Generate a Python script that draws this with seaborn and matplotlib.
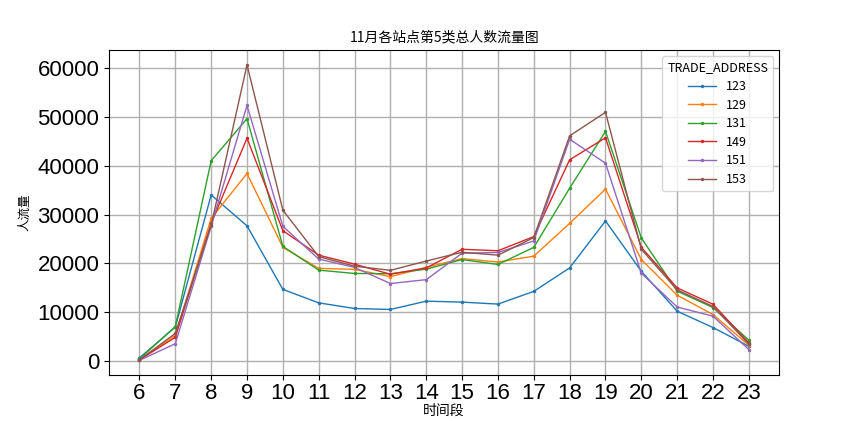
import numpy as np
import pandas as pd
import matplotlib
matplotlib.use("Agg")
import matplotlib.pyplot as plt
import seaborn as sns

# 时间段 6..23
hours = [6, 7, 8, 9, 10, 11, 12, 13, 14, 15, 16, 17, 18, 19, 20, 21, 22, 23]

s123 = [700, 7000, 34000, 27700, 14700, 11950, 10800, 10600, 12300, 12100, 11700, 14300, 19100, 28700, 18400, 10240, 6900, 3070]
s129 = [400, 5300, 29200, 38400, 23300, 19000, 18800, 17300, 19200, 21000, 20300, 21500, 28200, 35200, 20800, 13500, 9560, 3280]
s131 = [500, 7100, 41000, 49600, 23500, 18640, 17960, 17900, 18840, 20800, 19800, 23300, 35400, 47000, 25200, 14340, 11000, 4300]
s149 = [300, 4900, 28200, 45600, 26700, 21700, 19860, 17800, 19100, 22900, 22600, 25500, 41200, 45700, 23300, 15000, 11670, 3750]
s151 = [200, 3600, 27600, 52300, 27600, 20900, 19200, 15900, 16700, 22100, 22250, 24600, 45400, 40500, 18000, 11100, 9220, 2400]
s153 = [300, 5700, 27800, 60600, 30900, 21400, 19450, 18600, 20500, 22300, 21700, 25300, 46100, 50900, 22900, 14600, 11200, 3500]

addresses = ["123", "129", "131", "149", "151", "153"]
series = [s123, s129, s131, s149, s151, s153]

rows = []
for addr, vals in zip(addresses, series):
    for h, v in zip(hours, vals):
        rows.append({"时间段": h, "人流量": v, "TRADE_ADDRESS": addr})
df = pd.DataFrame(rows)

plt.rcParams['font.family'] = ['Noto Sans CJK SC', 'DejaVu Sans']
plt.rcParams['axes.unicode_minus'] = False

fig = plt.figure(figsize=(8.65, 4.21), dpi=100)
ax = fig.add_axes([0.126, 0.109, 0.775, 0.772])

sns.lineplot(data=df, x="时间段", y="人流量", hue="TRADE_ADDRESS",
             palette="tab10", marker=".", markersize=5, markeredgewidth=0,
             linewidth=1, ax=ax)

ax.set_xticks(hours)
ax.grid(True, color='#b0b0b0', linewidth=1)
ax.set_axisbelow(True)
ax.tick_params(axis='x', pad=2)

for lab in ax.get_xticklabels():
    lab.set_family(['Liberation Sans', 'DejaVu Sans'])
    lab.set_fontsize(16)
for lab in ax.get_yticklabels():
    lab.set_family(['Liberation Sans', 'DejaVu Sans'])
    lab.set_fontsize(16)

ax.set_title("11月各站点第5类总人数流量图", fontsize=10)
ax.set_xlabel("时间段", fontsize=10, labelpad=0)
ax.set_ylabel("人流量", fontsize=9)

leg = ax.legend(title="TRADE_ADDRESS", loc="upper right", fontsize=9,
                title_fontsize=9, handlelength=2.2, labelspacing=0.45)

fig.savefig("out.png", dpi=100)
